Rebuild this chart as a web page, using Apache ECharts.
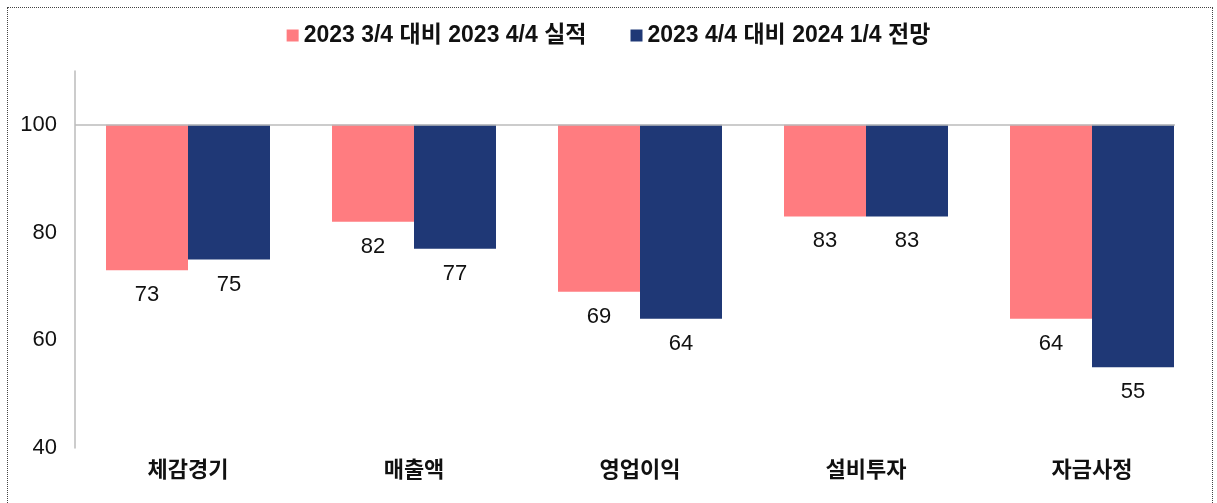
<html>
<head>
<meta charset="UTF-8">
<script src="https://cdn.jsdelivr.net/npm/echarts@6/dist/echarts.min.js"></script>
<style>
    body { margin: 0; background: #fff; }
    #box { position: absolute; left: 7px; top: 7px; width: 1204px; height: 500px; border: 1px dotted #444; }
    #chart { width: 1217px; height: 503px; position: absolute; left: 0; top: 0; }
</style>
</head>
<body>
<div id="box"></div>
<div id="chart"></div>
<script>
    var categories = ['체감경기', '매출액', '영업이익', '설비투자', '자금사정'];
    var seriesNames = ['2023 3/4 대비 2023 4/4 실적', '2023 4/4 대비 2024 1/4 전망'];
    var actual = [73, 82, 69, 83, 64];
    var outlook = [75, 77, 64, 83, 55];
    var baseLine = 100;
    var yTicks = [40, 60, 80, 100];

    var font = 'Liberation Sans, Noto Sans CJK KR, sans-serif';
    var colors = ['#FF7C80', '#1F3876'];

    function gap(arr) {
        return arr.map(function (v) { return baseLine - v; });
    }

    // invisible base bar up to the value + visible bar from the value to 100
    function makePair(name, vals, stack, color) {
        return [
            {
                name: name + '_base', type: 'bar', stack: stack, data: vals,
                itemStyle: { color: 'transparent' }, barWidth: 82, barGap: '0%',
                silent: true
            },
            {
                name: name, type: 'bar', stack: stack, data: gap(vals),
                itemStyle: { color: color }, barWidth: 82, barGap: '0%',
                label: {
                    show: true, position: 'bottom', distance: 14,
                    fontFamily: font, fontSize: 22, color: '#111',
                    formatter: function (p) { return vals[p.dataIndex]; }
                }
            }
        ];
    }

    var chart = echarts.init(document.getElementById('chart'));
    chart.setOption({
        animation: false,
        legend: {
            data: seriesNames,
            top: 19, left: 'center',
            itemWidth: 12, itemHeight: 12, itemGap: 44,
            icon: 'rect',
            textStyle: { fontFamily: font, fontSize: 23, fontWeight: 'bold', color: '#111' }
        },
        grid: { left: 75, right: 12, top: 71, bottom: 55, containLabel: false },
        xAxis: {
            type: 'category', data: categories,
            axisLine: { show: false }, axisTick: { show: false },
            axisLabel: { fontFamily: font, fontSize: 22, fontWeight: 'bold', color: '#111', margin: 12 }
        },
        yAxis: {
            type: 'value', min: 40, max: 110, interval: 20,
            axisLine: { show: true, lineStyle: { color: '#bbb', width: 1.5 } },
            axisTick: { show: false },
            splitLine: { show: false },
            axisLabel: {
                fontFamily: font, fontSize: 22, color: '#111', margin: 18,
                formatter: function (v) { return yTicks.indexOf(v) >= 0 ? v : ''; }
            }
        },
        series: makePair(seriesNames[0], actual, 'a', colors[0])
            .concat(makePair(seriesNames[1], outlook, 'b', colors[1]))
            .concat([{
                type: 'line', data: [], markLine: {
                    silent: true, symbol: 'none', label: { show: false },
                    lineStyle: { color: '#bbb', width: 1.5, type: 'solid' },
                    data: [[{ x: 75, yAxis: baseLine }, { x: 1175, yAxis: baseLine }]]
                }
            }])
    });
</script>
</body>
</html>
